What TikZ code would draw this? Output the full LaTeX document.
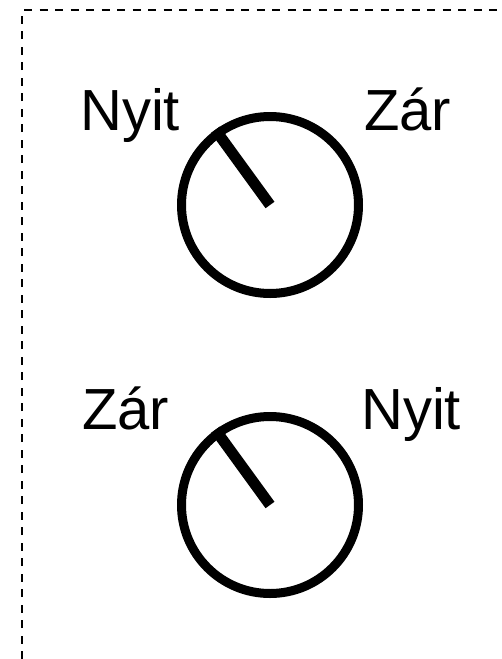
\documentclass[tikz,border=0pt]{standalone}
\usepackage{fontspec}
\setmainfont{Liberation Sans}
\begin{document}
\begin{tikzpicture}[x=1pt,y=1pt,
  frame/.style={line width=2pt,dash pattern=on 8pt off 7.5pt},
  knob/.style={circle,draw,line width=9pt,minimum size=177pt,inner sep=0pt},
  pointer/.style={line width=11pt,line cap=butt},
  label/.style={anchor=base west,inner sep=0pt,font=\fontsize{58}{62}\selectfont}]
  \useasboundingbox (0,0) rectangle (501,-659);
  % dashed frame, open at the right and at the bottom
  \draw[frame] (22,-659) -- (22,-10) -- (501,-10);
  % upper dial
  \node[knob] (knobA) at (270,-205) {};
  \draw[pointer] (knobA.center) -- (knobA.126);
  \node[label] (openA) at (80,-130) {Nyit};
  \node[label] (closeA) at (364,-130) {Zár};
  % lower dial
  \node[knob] (knobB) at (270,-505) {};
  \draw[pointer] (knobB.center) -- (knobB.126);
  \node[label] (closeB) at (82,-429) {Zár};
  \node[label] (openB) at (361,-429) {Nyit};
\end{tikzpicture}
\end{document}
